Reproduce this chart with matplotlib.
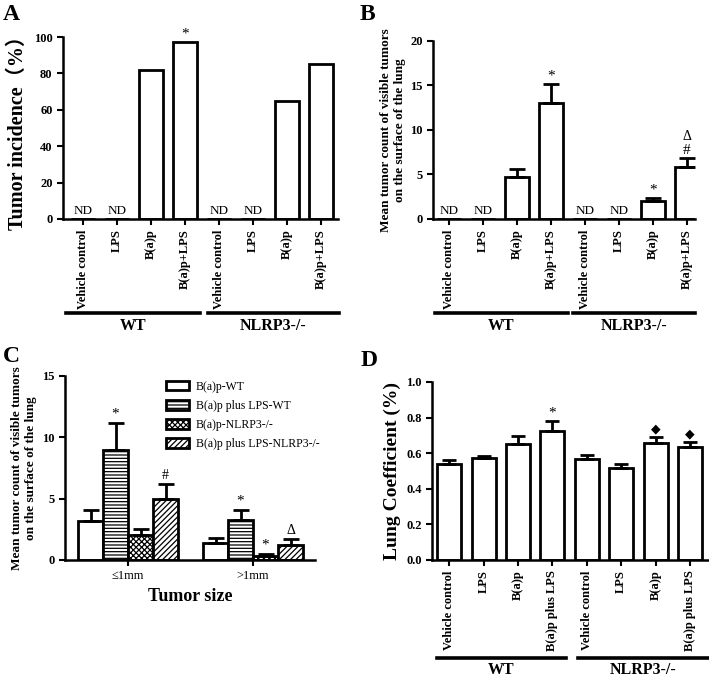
import numpy as np
import matplotlib
matplotlib.use("Agg")
import matplotlib.pyplot as plt
from matplotlib.transforms import blended_transform_factory
from matplotlib.lines import Line2D

plt.rcParams['font.family'] = ['Liberation Serif', 'DejaVu Sans', 'Noto Sans CJK SC']
plt.rcParams['hatch.linewidth'] = 0.9

W, H = 709, 678

# ---- data ----
groups = ['WT', 'NLRP3-/-']
cats_ab = ['Vehicle control', 'LPS', 'B(a)p', 'B(a)p+LPS'] * 2
cats_d = ['Vehicle control', 'LPS', 'B(a)p', 'B(a)p plus LPS'] * 2
nd_idx = [0, 1, 4, 5]

incidence = [0, 0, 82, 97, 0, 0, 65, 85]
incidence_marks = {3: '*'}

count_mean = [0, 0, 4.7, 13.0, 0, 0, 2.0, 5.8]
count_err = [0, 0, 0.9, 2.2, 0, 0, 0.4, 1.1]
count_marks = {3: '*', 6: '*', 7: '#'}

size_cats = ['≤1mm', '>1mm']
size_series = ['B(a)p-WT', 'B(a)p plus LPS-WT', 'B(a)p-NLRP3-/-', 'B(a)p plus LPS-NLRP3-/-']
size_mean = [[3.2, 1.4], [9.0, 3.3], [2.0, 0.35], [5.0, 1.2]]
size_err = [[0.9, 0.4], [2.2, 0.8], [0.5, 0.15], [1.2, 0.5]]
size_marks = {(1, 0): '*', (3, 0): '#', (1, 1): '*', (2, 1): '*', (3, 1): 'Δ'}
hatches = ['', '-----', 'xxxxxx', '//////']

lung_mean = [0.54, 0.575, 0.65, 0.725, 0.565, 0.515, 0.655, 0.635]
lung_err = [0.022, 0.01, 0.045, 0.055, 0.025, 0.022, 0.035, 0.028]
lung_marks = {3: '*', 6: '◆', 7: '◆'}

fig = plt.figure(figsize=(W / 100, H / 100), dpi=100)


def px_axes(l, r, t, b):
    return fig.add_axes([l / W, 1 - b / H, (r - l) / W, (b - t) / H])


def style(ax):
    for s in ['top', 'right']:
        ax.spines[s].set_visible(False)
    for s in ['left', 'bottom']:
        ax.spines[s].set_linewidth(1.8)
    ax.tick_params(width=1.5, length=4, labelsize=9)
    for lab in ax.get_yticklabels():
        lab.set_fontweight('bold')


def group_lines(ax, spans, yline, ytext):
    tr = blended_transform_factory(ax.transData, fig.transFigure)
    for (x0, x1), g in zip(spans, groups):
        fig.add_artist(Line2D([x0, x1], [1 - yline / H] * 2, transform=tr, color='k', lw=2.6))
        fig.text((x0 + x1) / 2, 1 - ytext / H, g, transform=tr, ha='center', va='center',
                 fontsize=11.5, fontweight='bold')


def upper_err(ax, xs, means, errs, cap):
    keep = [i for i in range(len(xs)) if errs[i] > 0]
    ax.errorbar([xs[i] for i in keep], [means[i] for i in keep],
                yerr=[[0] * len(keep), [errs[i] for i in keep]],
                fmt='none', ecolor='k', elinewidth=2, capsize=cap, capthick=2)


x8 = np.arange(8)

# ---- A ----
axA = px_axes(63, 338, 37, 219)
axA.bar(x8, incidence, width=0.7, facecolor='white', edgecolor='k', linewidth=2)
axA.set_xlim(-0.59, 7.5)
axA.set_ylim(0, 100)
axA.set_yticks([0, 20, 40, 60, 80, 100])
axA.set_xticks(x8)
axA.set_xticklabels(cats_ab, rotation=90, fontweight='bold')
style(axA)
for i in nd_idx:
    axA.text(i, 1, 'ND', ha='center', va='bottom', fontsize=9.5)
for i, m in incidence_marks.items():
    axA.text(i, incidence[i] + 1, m, ha='center', va='bottom', fontsize=11)
axA.set_ylabel('Tumor incidence（%）', fontsize=14.5, fontweight='bold', labelpad=4)
group_lines(axA, [(-0.5, 3.44), (3.68, 7.53)], 313, 326)
fig.text(3 / W, 1 - 14 / H, 'A', fontsize=17, fontweight='bold', va='center')

# ---- B ----
axB = px_axes(433, 695, 41, 219)
axB.bar(x8, count_mean, width=0.7, facecolor='white', edgecolor='k', linewidth=2)
upper_err(axB, x8, count_mean, count_err, 6)
axB.set_xlim(-0.47, 7.24)
axB.set_ylim(0, 20)
axB.set_yticks([0, 5, 10, 15, 20])
axB.set_xticks(x8)
axB.set_xticklabels(cats_ab, rotation=90, fontweight='bold')
style(axB)
for i in nd_idx:
    axB.text(i, 0.2, 'ND', ha='center', va='bottom', fontsize=9.5)
for i, m in count_marks.items():
    axB.text(i, count_mean[i] + count_err[i] + 0.1, m, ha='center', va='bottom', fontsize=11)
axB.text(7, count_mean[7] + count_err[7] + 1.6, 'Δ', ha='center', va='bottom', fontsize=10)
axB.set_ylabel('Mean tumor count of visible tumors\non the surface of the lung',
               fontsize=9.5, fontweight='bold', labelpad=3)
group_lines(axB, [(-0.41, 3.5), (3.65, 7.24)], 313, 326)
fig.text(360 / W, 1 - 14 / H, 'B', fontsize=17, fontweight='bold', va='center')

# ---- C ----
axC = px_axes(65, 315, 376, 560)
bw = 0.2
for k in range(4):
    xs = np.arange(2) + (k - 1.5) * bw
    axC.bar(xs, size_mean[k], width=bw, facecolor='white', edgecolor='k', linewidth=2,
            hatch=hatches[k], label=size_series[k])
    upper_err(axC, xs, size_mean[k], size_err[k], 6)
for (k, g), m in size_marks.items():
    axC.text(g + (k - 1.5) * bw, size_mean[k][g] + size_err[k][g] + 0.15, m,
             ha='center', va='bottom', fontsize=11 if m == '*' else 10)
axC.set_xlim(-0.504, 1.496)
axC.set_ylim(0, 15)
axC.set_yticks([0, 5, 10, 15])
axC.set_xticks([0, 1])
axC.set_xticklabels(size_cats, fontsize=11)
style(axC)
axC.set_xlabel('Tumor size', fontsize=13, fontweight='bold', labelpad=4)
axC.set_ylabel('Mean tumor count of visible tumors\non the surface of the lung',
               fontsize=9.5, fontweight='bold', labelpad=4)
axC.legend(loc='upper left', bbox_to_anchor=(0.405, 0.975), frameon=False, fontsize=8.5,
           borderaxespad=0, borderpad=0, handlelength=1.9, handleheight=0.9,
           handletextpad=0.6, labelspacing=0.6)
fig.text(3 / W, 1 - 357 / H, 'C', fontsize=17, fontweight='bold', va='center')

# ---- D ----
axD = px_axes(432, 708, 382, 560)
axD.bar(x8, lung_mean, width=0.7, facecolor='white', edgecolor='k', linewidth=2)
upper_err(axD, x8, lung_mean, lung_err, 5)
for i, m in lung_marks.items():
    axD.text(i, lung_mean[i] + lung_err[i] + 0.01, m, ha='center', va='bottom',
             fontsize=11 if m == '*' else 9, family=['DejaVu Sans'] if m == '◆' else None)
axD.set_xlim(-0.5, 7.52)
axD.set_ylim(0, 1.0)
axD.set_yticks([0, 0.2, 0.4, 0.6, 0.8, 1.0])
axD.set_yticklabels(['0.0', '0.2', '0.4', '0.6', '0.8', '1.0'])
axD.set_xticks(x8)
axD.set_xticklabels(cats_d, rotation=90, fontweight='bold')
style(axD)
axD.set_ylabel('Lung Coefficient (%)', fontsize=14, fontweight='bold', labelpad=4)
group_lines(axD, [(-0.35, 3.38), (3.73, 7.52)], 658, 670)
fig.text(361 / W, 1 - 360 / H, 'D', fontsize=17, fontweight='bold', va='center')

fig.savefig('out.png', dpi=100, facecolor='white')
